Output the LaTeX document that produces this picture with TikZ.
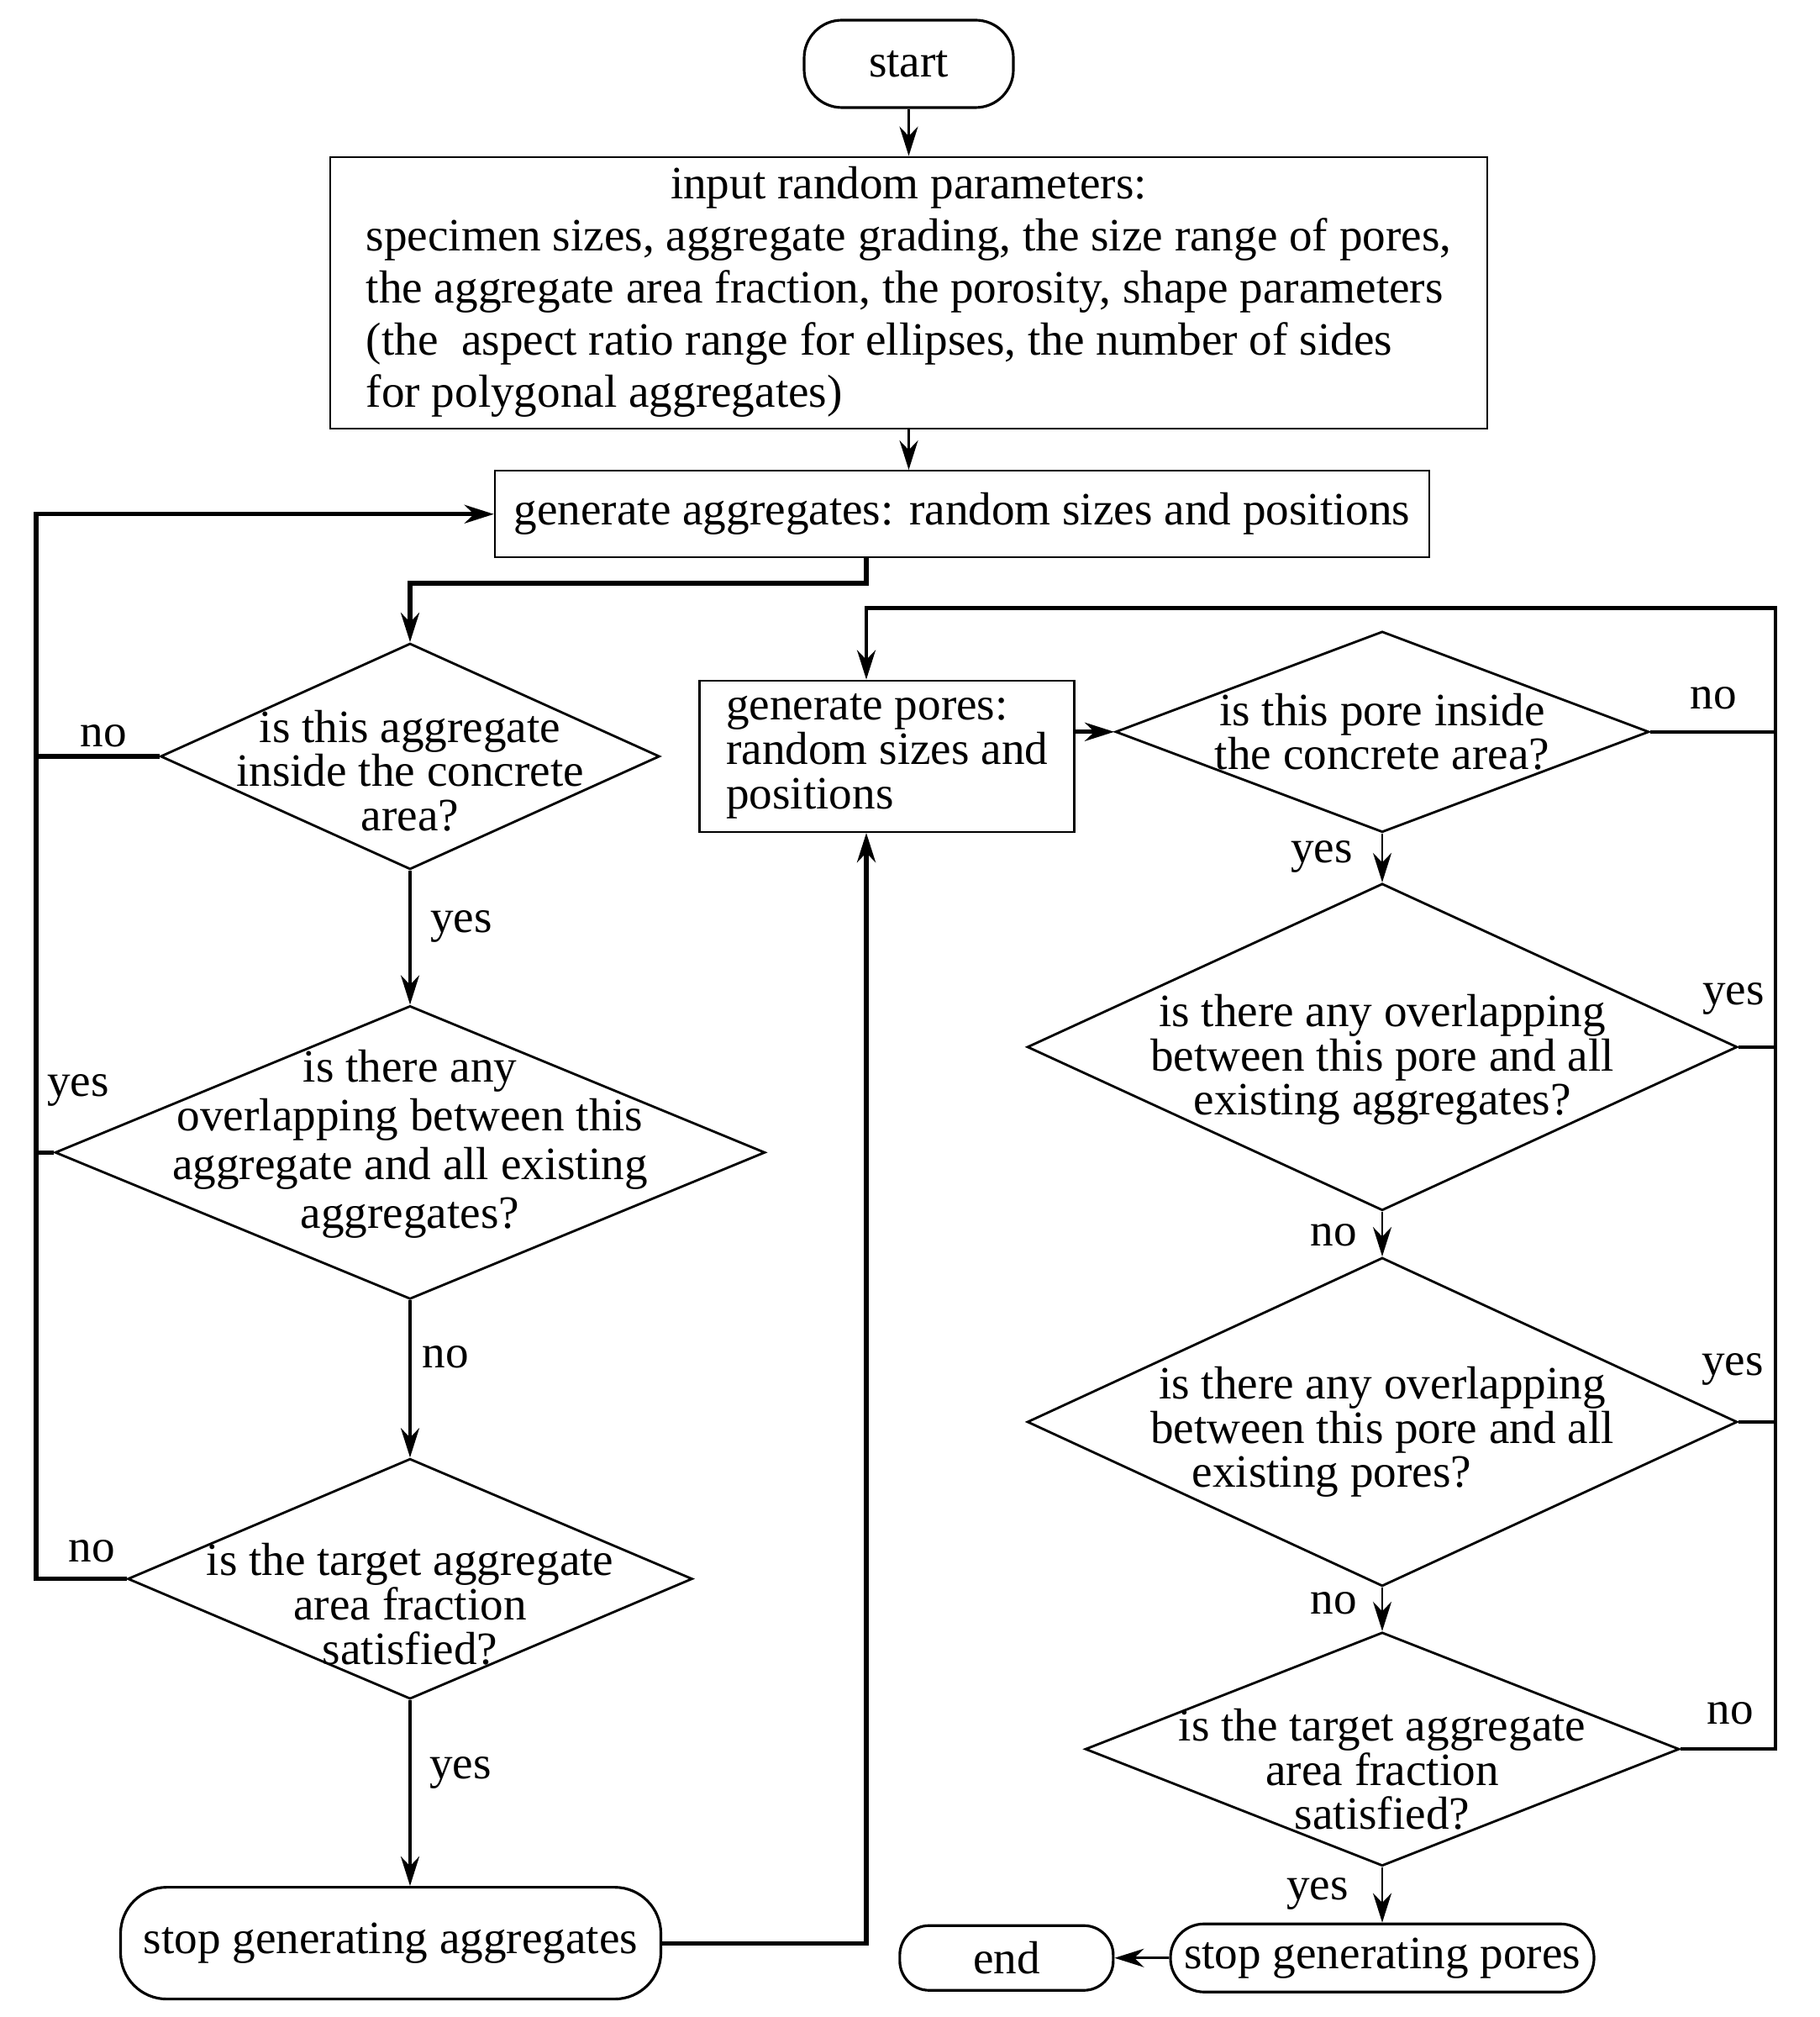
\documentclass[tikz,border=0pt]{standalone}
\usepackage{fontspec}
\setmainfont{Liberation Serif}
\usetikzlibrary{arrows.meta,positioning,shapes.geometric}

\newcommand{\flowfont}{\fontsize{15.7}{15}\selectfont}

\begin{document}
\begin{tikzpicture}[
  box/.style={rectangle, draw, line width=0.7pt, font=\flowfont},
  term/.style={rectangle, rounded corners=0.4cm, draw, line width=0.9pt, font=\flowfont},
  decision/.style 2 args={diamond, draw, line width=0.8pt, inner sep=0pt, minimum width=#1, minimum height=#2},
  qtext/.style={align=center, font=\flowfont},
  lbl/.style={font=\flowfont, inner sep=1pt},
  arr/.style={-{Stealth[length=3.5mm, width=2.2mm]}, line width=0.8pt},
  thk/.style={line width=1.5pt},
  mid/.style={line width=1.2pt}]
\useasboundingbox (0,0) rectangle (21.65,-24);

% top part
\node[term, rounded corners=0.45cm, minimum width=2.49cm, minimum height=1.04cm] (start) at (10.815,-0.76) {start};
\node[box, inner ysep=0pt, minimum width=13.77cm, minimum height=3.23cm, below=0.56cm of start, font=\fontsize{15.7}{17.6}\selectfont] (input) {\begin{tabular}{@{}l@{}}
  \multicolumn{1}{c}{input random parameters:}\\
  specimen sizes, aggregate grading, the size range of pores,\\
  the aggregate area fraction, the porosity, shape parameters\\
  (the\ \ aspect ratio range for ellipses, the number of sides\\
  for polygonal aggregates)
\end{tabular}};
\node[box, minimum width=11.12cm, minimum height=1.03cm, below=0.48cm of input, xshift=6.35mm] (genagg) {generate aggregates: random sizes and positions};

% aggregates column
\node[decision={5.94cm}{2.69cm}, label={[qtext, yshift=-1.7mm]center:is this aggregate\\inside the concrete\\area?}] (a1) at (4.88,-9.00) {};
\node[decision={8.45cm}{3.49cm}, below=1.595cm of a1, label={[qtext, font=\fontsize{15.7}{16.5}\selectfont, yshift=1mm]center:is there any\\overlapping between this\\aggregate and all existing\\aggregates?}] (a2) {};
\node[decision={6.72cm}{2.86cm}, below=1.87cm of a2, label={[qtext, yshift=-3mm]center:is the target aggregate\\area fraction\\satisfied?}] (a3) {};
\node[term, rounded corners=0.55cm, minimum width=6.43cm, minimum height=1.33cm, below=2.21cm of a3, xshift=-2.3mm] (stopagg) {stop generating aggregates};

% pores column
\node[box, align=left, minimum width=4.46cm, minimum height=1.80cm] (pores) at (10.557,-8.998) {generate pores:\\random sizes and\\positions};
\node[decision={6.35cm}{2.39cm}, label={[qtext]center:is this pore inside\\the concrete area?}] (p1) at (16.45,-8.708) {};
\node[decision={8.45cm}{3.89cm}, below=0.582cm of p1, label={[qtext, yshift=-1.5mm]center:is there any overlapping\\between this pore and all\\existing aggregates?}] (p2) {};
\node[decision={8.45cm}{3.91cm}, below=0.533cm of p2, label={[qtext, yshift=-1.2mm]center:is there any overlapping\\between this pore and all\\existing pores?\hspace*{1.2cm}}] (p3) {};
\node[decision={7.07cm}{2.78cm}, below=0.52cm of p3, label={[qtext, yshift=-2.4mm]center:is the target aggregate\\area fraction\\satisfied?}] (p4) {};
\node[term, minimum width=5.04cm, minimum height=0.81cm, below=0.66cm of p4] (spores) {stop generating pores};
\node[term, rounded corners=0.35cm, minimum width=2.54cm, minimum height=0.77cm, left=0.65cm of spores] (finish) {end};

% answers
\node[lbl] (no1) at (1.23,-8.76) {no};
\node[lbl] (yes1) at (5.49,-11.02) {yes};
\node[lbl] (yes2) at (0.93,-12.97) {yes};
\node[lbl] (no2) at (5.30,-16.15) {no};
\node[lbl] (no3) at (1.09,-18.46) {no};
\node[lbl] (yes3) at (5.48,-21.09) {yes};
\node[lbl] (no4) at (20.39,-8.31) {no};
\node[lbl] (yes4) at (15.73,-10.19) {yes};
\node[lbl] (yes5) at (20.63,-11.88) {yes};
\node[lbl] (no5) at (15.87,-14.70) {no};
\node[lbl] (yes6) at (20.62,-16.29) {yes};
\node[lbl] (no6) at (15.87,-19.08) {no};
\node[lbl] (no7) at (20.59,-20.39) {no};
\node[lbl] (yes7) at (15.68,-22.53) {yes};

% connectors
\coordinate (jx) at (10.31,-6.94);
\coordinate (lx) at (0.43,-6.115);
\coordinate (rx) at (21.13,-7.235);
\draw[arr] (start) -- (input);
\draw[arr] (input.south) -- (input.south |- genagg.north);
\draw[arr, thk] (genagg.south -| jx) -- (jx) -| (a1.north);
\foreach \i/\j in {a1/a2,a2/a3} \draw[arr, mid] (\i) -- (\j);
\draw[arr, mid] (a3.south) -- (a3.south |- stopagg.north);
\foreach \d in {a1,a2} \draw[thk] (\d.west) -- (\d.west -| lx);
\draw[arr, thk] (a3.west) -| (lx |- genagg.west) -- (genagg.west);
\draw[arr, thk] (stopagg.east) -| (pores.south -| jx);
\draw[arr, thk] (pores.east |- p1.west) -- (p1.west);
\foreach \i/\j in {p1/p2,p2/p3,p3/p4,p4/spores} \draw[arr] (\i) -- (\j);
\foreach \d in {p1,p2,p3} \draw[mid] (\d.east) -- (\d.east -| rx);
\draw[arr, mid] (p4.east) -| (rx) -| (pores.north -| jx);
\draw[arr] (spores) -- (finish);
\end{tikzpicture}
\end{document}
